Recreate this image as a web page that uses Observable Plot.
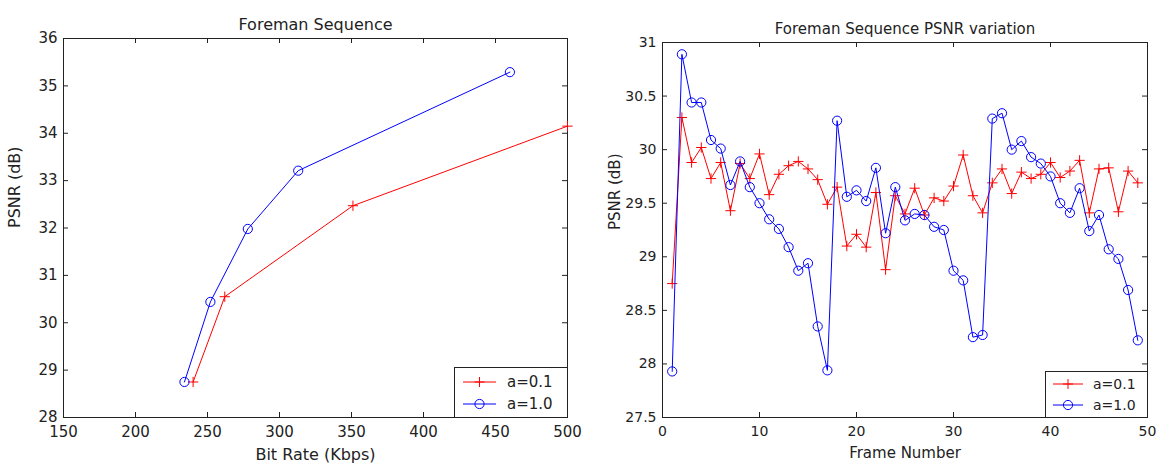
<!DOCTYPE html>
<html>
<head>
<meta charset="utf-8">
<script src="https://cdn.jsdelivr.net/npm/d3@7"></script>
<script src="https://cdn.jsdelivr.net/npm/@observablehq/plot@0.6"></script>
<style>
  html, body { margin: 0; padding: 0; background: #fff; }
  #wrap { position: relative; width: 1165px; height: 472px; background: #fff; overflow: hidden; font-family: "DejaVu Sans", sans-serif; }
  #left, #right { position: absolute; top: 0; }
  #left { left: 0; }
  #right { left: 590px; }
  .legend { position: absolute; background: #fff; border: 1px solid #222; box-sizing: border-box; }
  .legend svg { display: block; }
</style>
</head>
<body>
<div id="wrap">
  <div id="left"></div>
  <div id="right"></div>
  <div class="legend" id="legL" style="left:454px; top:367px; width:114px; height:51px;"></div>
  <div class="legend" id="legR" style="left:1045px; top:371px; width:103px; height:47px;"></div>
</div>
<script>
// ---- Left panel data: PSNR vs bit rate ----
const leftTitle = "Foreman Sequence";
const leftXLabel = "Bit Rate (Kbps)";
const leftYLabel = "PSNR (dB)";
const leftXTicks = [150, 200, 250, 300, 350, 400, 450, 500];
const leftYTicks = [28, 29, 30, 31, 32, 33, 34, 35, 36];
const rate01 = [240, 262, 351, 500];
const rdPsnr01 = [28.75, 30.55, 32.47, 34.15];
const rate10 = [234, 252, 278, 313, 460];
const rdPsnr10 = [28.75, 30.44, 31.98, 33.21, 35.29];

// ---- Right panel data: PSNR per frame ----
const rightTitle = "Foreman Sequence PSNR variation";
const rightXLabel = "Frame Number";
const rightYLabel = "PSNR (dB)";
const rightXTicks = [0, 10, 20, 30, 40, 50];
const rightYTicks = [27.5, 28, 28.5, 29, 29.5, 30, 30.5, 31];
const frames = [1, 2, 3, 4, 5, 6, 7, 8, 9, 10, 11, 12, 13, 14, 15, 16, 17, 18, 19, 20,
  21, 22, 23, 24, 25, 26, 27, 28, 29, 30, 31, 32, 33, 34, 35, 36, 37, 38, 39, 40,
  41, 42, 43, 44, 45, 46, 47, 48, 49];
const framePsnr01 = [28.75, 30.30, 29.88, 30.02, 29.73, 29.88, 29.43, 29.87, 29.73, 29.96,
  29.58, 29.77, 29.85, 29.89, 29.82, 29.72, 29.49, 29.65, 29.10, 29.21,
  29.09, 29.60, 28.88, 29.57, 29.40, 29.64, 29.39, 29.55, 29.52, 29.66,
  29.95, 29.57, 29.41, 29.69, 29.82, 29.59, 29.79, 29.73, 29.77, 29.88,
  29.74, 29.80, 29.90, 29.41, 29.82, 29.83, 29.42, 29.80, 29.69];
const framePsnr10 = [27.93, 30.89, 30.44, 30.44, 30.09, 30.01, 29.67, 29.89, 29.65, 29.50,
  29.35, 29.26, 29.09, 28.87, 28.94, 28.35, 27.94, 30.27, 29.56, 29.62,
  29.52, 29.83, 29.22, 29.65, 29.34, 29.40, 29.39, 29.28, 29.25, 28.87,
  28.78, 28.25, 28.27, 30.29, 30.34, 30.00, 30.08, 29.93, 29.87, 29.75,
  29.50, 29.41, 29.64, 29.24, 29.39, 29.07, 28.98, 28.69, 28.22];

const seriesNames = ["a=0.1", "a=1.0"];
const RED = "#ff0000", BLUE = "#0000ff", INK = "#222";
const fmt = d => String(d);
const TICK = 5;

function panel({width, marginLeft, marginRight, marginTop, marginBottom, xDomain, yDomain, xTicks, yTicks,
                title, titleSize, titleDy, xLabel, yLabel, labelSize, xLabelDy, yLabelDx, tickSize,
                red, blue}) {
  const height = 472;
  const fw = width - marginLeft - marginRight;
  const fh = height - marginTop - marginBottom;
  return Plot.plot({
    width, height, marginLeft, marginRight, marginTop, marginBottom,
    style: {fontFamily: "DejaVu Sans, sans-serif", fontSize: tickSize + "px", color: INK, background: "white", overflow: "visible"},
    x: {domain: xDomain, ticks: xTicks},
    y: {domain: yDomain, ticks: yTicks},
    marks: [
      Plot.frame({stroke: INK, strokeWidth: 1}),
      // tick labels
      Plot.axisX({ticks: xTicks, tickSize: 0, tickPadding: 9, tickFormat: fmt, label: null}),
      Plot.axisY({ticks: yTicks, tickSize: 0, tickPadding: 6, tickFormat: fmt, label: null}),
      // inward ticks on all four sides (short rules at the frame edges)
      Plot.ruleX(xTicks, {x: d => d, insetTop: fh - TICK, stroke: INK}),
      Plot.ruleX(xTicks, {x: d => d, insetBottom: fh - TICK, stroke: INK}),
      Plot.ruleY(yTicks, {y: d => d, insetRight: fw - TICK, stroke: INK}),
      Plot.ruleY(yTicks, {y: d => d, insetLeft: fw - TICK, stroke: INK}),
      // data
      Plot.line(red, {x: "x", y: "y", stroke: RED, strokeWidth: 1}),
      Plot.dot(red, {x: "x", y: "y", symbol: "plus", r: 3.4, stroke: RED, strokeWidth: 1}),
      Plot.line(blue, {x: "x", y: "y", stroke: BLUE, strokeWidth: 1}),
      Plot.dot(blue, {x: "x", y: "y", symbol: "circle", r: 4.6, stroke: BLUE, fill: "none", strokeWidth: 1}),
      // titles and axis labels
      Plot.text([title], {text: d => d, frameAnchor: "top", dy: titleDy, fontSize: titleSize, fill: INK}),
      Plot.text([xLabel], {text: d => d, frameAnchor: "bottom", dy: xLabelDy, fontSize: labelSize, fill: INK}),
      Plot.text([yLabel], {text: d => d, frameAnchor: "left", dx: yLabelDx, rotate: -90, fontSize: labelSize, fill: INK})
    ]
  });
}

const leftRed = rate01.map((r, i) => ({x: r, y: rdPsnr01[i]}));
const leftBlue = rate10.map((r, i) => ({x: r, y: rdPsnr10[i]}));
const rightRed = frames.map((f, i) => ({x: f, y: framePsnr01[i]}));
const rightBlue = frames.map((f, i) => ({x: f, y: framePsnr10[i]}));

document.getElementById("left").append(panel({
  width: 590, marginLeft: 63, marginRight: 23, marginTop: 38, marginBottom: 55,
  xDomain: [150, 500], yDomain: [28, 36], xTicks: leftXTicks, yTicks: leftYTicks,
  title: leftTitle, titleSize: 16, titleDy: -20, xLabel: leftXLabel, yLabel: leftYLabel,
  labelSize: 16, xLabelDy: 42, yLabelDx: -49, tickSize: 15,
  red: leftRed, blue: leftBlue
}));

document.getElementById("right").append(panel({
  width: 575, marginLeft: 72, marginRight: 18, marginTop: 42, marginBottom: 55,
  xDomain: [0, 50], yDomain: [27.5, 31], xTicks: rightXTicks, yTicks: rightYTicks,
  title: rightTitle, titleSize: 15, titleDy: -19, xLabel: rightXLabel, yLabel: rightYLabel,
  labelSize: 15, xLabelDy: 40, yLabelDx: -47, tickSize: 14,
  red: rightRed, blue: rightBlue
}));

// legends (HTML boxes with small SVG symbols)
function legend(el, w, h, fontSize, lineX0, lineX1, textX, rows) {
  const ns = "http://www.w3.org/2000/svg";
  const svg = document.createElementNS(ns, "svg");
  svg.setAttribute("width", w - 2); svg.setAttribute("height", h - 2);
  rows.forEach(({name, color, symbol, y}) => {
    const line = document.createElementNS(ns, "line");
    line.setAttribute("x1", lineX0); line.setAttribute("x2", lineX1);
    line.setAttribute("y1", y); line.setAttribute("y2", y);
    line.setAttribute("stroke", color); line.setAttribute("stroke-width", 1);
    svg.append(line);
    const cx = (lineX0 + lineX1) / 2;
    if (symbol === "plus") {
      const p = document.createElementNS(ns, "path");
      p.setAttribute("d", `M${cx - 5},${y}H${cx + 5}M${cx},${y - 5}V${y + 5}`);
      p.setAttribute("stroke", color); p.setAttribute("fill", "none");
      svg.append(p);
    } else {
      const c = document.createElementNS(ns, "circle");
      c.setAttribute("cx", cx); c.setAttribute("cy", y); c.setAttribute("r", 4.6);
      c.setAttribute("stroke", color); c.setAttribute("fill", "none");
      svg.append(c);
    }
    const t = document.createElementNS(ns, "text");
    t.setAttribute("x", textX); t.setAttribute("y", y);
    t.setAttribute("dy", "0.35em");
    t.setAttribute("font-family", "DejaVu Sans, sans-serif");
    t.setAttribute("font-size", fontSize);
    t.setAttribute("fill", INK);
    t.textContent = name;
    svg.append(t);
  });
  el.append(svg);
}
legend(document.getElementById("legL"), 114, 51, 15, 8, 41, 52, [
  {name: seriesNames[0], color: RED, symbol: "plus", y: 14},
  {name: seriesNames[1], color: BLUE, symbol: "circle", y: 36}
]);
legend(document.getElementById("legR"), 103, 47, 14, 7, 37, 47, [
  {name: seriesNames[0], color: RED, symbol: "plus", y: 12},
  {name: seriesNames[1], color: BLUE, symbol: "circle", y: 33}
]);
</script>
</body>
</html>
